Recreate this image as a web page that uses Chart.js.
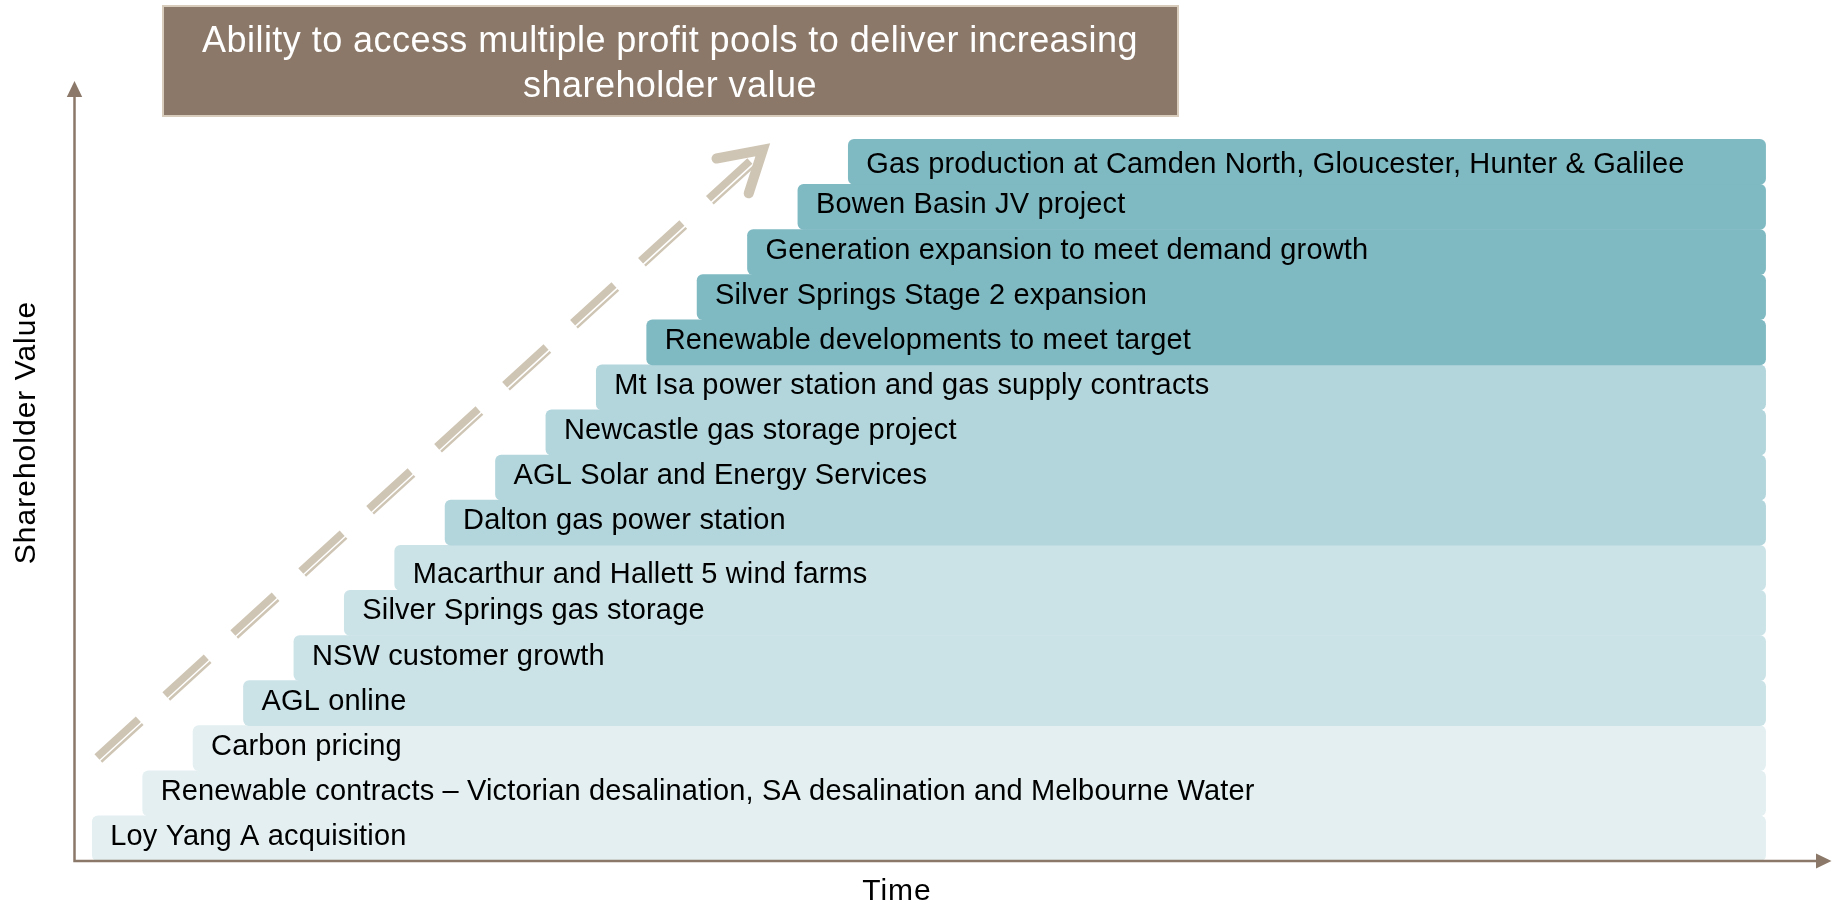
<!DOCTYPE html>
<html>
<head>
<meta charset="utf-8">
<script src="https://cdn.jsdelivr.net/npm/chart.js@4.4.1/dist/chart.umd.min.js"></script>
<style>
  html, body { margin: 0; padding: 0; background: #ffffff; }
  #wrap { width: 1836px; height: 905px; position: relative; }
  canvas { display: block; }
</style>
</head>
<body>
<div id="wrap"><canvas id="chart" width="1836" height="905"></canvas></div>
<script>
// ---------------- data ----------------
const categories = [
  "Loy Yang A acquisition",
  "Renewable contracts \u2013 Victorian desalination, SA desalination and Melbourne Water",
  "Carbon pricing",
  "AGL online",
  "NSW customer growth",
  "Silver Springs gas storage",
  "Macarthur and Hallett 5 wind farms",
  "Dalton gas power station",
  "AGL Solar and Energy Services",
  "Newcastle gas storage project",
  "Mt Isa power station and gas supply contracts",
  "Renewable developments to meet target",
  "Silver Springs Stage 2 expansion",
  "Generation expansion to meet demand growth",
  "Bowen Basin JV project",
  "Gas production at Camden North, Gloucester, Hunter & Galilee"
];
const valueLevel = [0, 1, 2, 3, 4, 5, 6, 7, 8, 9, 10, 11, 12, 13, 14, 15];
const startTime  = [1, 2, 3, 4, 5, 6, 7, 8, 9, 10, 11, 12, 13, 14, 15, 16];
const endTime    = [34.2, 34.2, 34.2, 34.2, 34.2, 34.2, 34.2, 34.2, 34.2, 34.2, 34.2, 34.2, 34.2, 34.2, 34.2, 34.2];
const tierOf     = [0, 0, 0, 1, 1, 1, 1, 2, 2, 2, 2, 3, 3, 3, 3, 3];

const titleLines = ["Ability to access multiple profit pools to deliver increasing", "shareholder value"];
const xAxisTitle = "Time";
const yAxisTitle = "Shareholder Value";

// dashed growth arrow (in time / value units)
const arrowShaftX = [1.093, 14.049];
const arrowShaftY = [1.806, 15.021];
const arrowThinX  = [1.180, 14.137];
const arrowThinY  = [1.700, 14.915];
const arrowHeadX  = [13.385, 14.304, 14.024];
const arrowHeadY  = [15.074, 15.269, 14.302];

// axis extents (in value units)
const timeMin = 0.657, timeMax = 35.2;
const valueMin = -0.5, valueMax = 18.5;
const valueAxisTop = 16.44;

// ---------------- styles ----------------
const tierColors = ['#E3EFF1', '#CBE3E7', '#B2D6DC', '#7FB9C2'];
const labelShift = [0, 0, 0, 0, 0, 0, 9, 0, 0, 0, 0, 0, 0, 0, 0, 5];
const FONT = '"Liberation Sans", Arial, Helvetica, sans-serif';
const AXIS_COLOR = '#8B7868';
const ARROW_COLOR = '#CFC5B4';

const toXY = (xs, ys) => xs.map((x, i) => ({ x: x, y: ys[i] }));

const decor = {
  id: 'decor',
  afterDatasetsDraw(chart) {
    const ctx = chart.ctx;
    const meta = chart.getDatasetMeta(0);
    ctx.save();
    ctx.font = '29px ' + FONT;
    ctx.letterSpacing = '0.15px';
    ctx.fillStyle = '#000000';
    ctx.textAlign = 'left';
    ctx.textBaseline = 'alphabetic';
    meta.data.forEach((el, i) => {
      const left = Math.min(el.x, el.base);
      ctx.fillText(categories[i], left + 18, el.y + 6.5 + labelShift[i]);
    });
    ctx.restore();
  },
  afterDraw(chart) {
    const ctx = chart.ctx;
    const area = chart.chartArea;
    const ys = chart.scales.y;
    ctx.save();
    // axes
    ctx.strokeStyle = AXIS_COLOR;
    ctx.fillStyle = AXIS_COLOR;
    ctx.lineWidth = 2.5;
    const axTop = ys.getPixelForValue(valueAxisTop);
    const x0 = area.left - 0.5, y0 = area.bottom;
    ctx.beginPath();
    ctx.moveTo(x0, y0 + 1.2);
    ctx.lineTo(x0, axTop);
    ctx.moveTo(x0 - 1.2, y0);
    ctx.lineTo(area.right, y0);
    ctx.stroke();
    ctx.beginPath();
    ctx.moveTo(x0, axTop - 16);
    ctx.lineTo(x0 - 7.7, axTop);
    ctx.lineTo(x0 + 7.7, axTop);
    ctx.closePath();
    ctx.fill();
    ctx.beginPath();
    ctx.moveTo(area.right + 15.5, y0);
    ctx.lineTo(area.right, y0 - 7.5);
    ctx.lineTo(area.right, y0 + 7.5);
    ctx.closePath();
    ctx.fill();

    // axis titles
    ctx.fillStyle = '#000000';
    ctx.font = '30px ' + FONT;
    ctx.letterSpacing = '1px';
    ctx.textAlign = 'center';
    ctx.textBaseline = 'alphabetic';
    ctx.fillText(xAxisTitle, 897, 899.5);
    ctx.save();
    ctx.translate(34.5, 432.5);
    ctx.rotate(-Math.PI / 2);
    ctx.fillText(yAxisTitle, 0, 0);
    ctx.restore();

    // title box
    ctx.fillStyle = '#D8CDBC';
    ctx.fillRect(162, 5, 1017, 112);
    ctx.fillStyle = '#8B7868';
    ctx.fillRect(164, 7, 1013, 108);
    ctx.fillStyle = '#FFFFFF';
    ctx.font = '36px ' + FONT;
    ctx.letterSpacing = '0.45px';
    ctx.textAlign = 'center';
    ctx.fillText(titleLines[0], 670, 51.5);
    ctx.fillText(titleLines[1], 670, 96.5);
    ctx.restore();
  }
};

const chart = new Chart(document.getElementById('chart'), {
  type: 'bar',
  data: {
    datasets: [
      {
        type: 'bar',
        indexAxis: 'y',
        data: categories.map((c, i) => ({ x: [startTime[i], endTime[i]], y: valueLevel[i] })),
        backgroundColor: tierOf.map(t => tierColors[t]),
        borderWidth: 0,
        borderRadius: 6,
        borderSkipped: false,
        barPercentage: 1,
        categoryPercentage: 1
      },
      {
        type: 'line',
        indexAxis: 'x',
        data: toXY(arrowShaftX, arrowShaftY),
        borderColor: ARROW_COLOR,
        borderWidth: 7.5,
        borderDash: [56, 36],
        borderCapStyle: 'butt',
        pointRadius: 0,
        fill: false,
        tension: 0
      },
      {
        type: 'line',
        indexAxis: 'x',
        data: toXY(arrowThinX, arrowThinY),
        borderColor: ARROW_COLOR,
        borderWidth: 2.5,
        borderDash: [56, 36],
        borderCapStyle: 'butt',
        pointRadius: 0,
        fill: false,
        tension: 0
      },
      {
        type: 'line',
        indexAxis: 'x',
        data: toXY(arrowHeadX, arrowHeadY),
        borderColor: ARROW_COLOR,
        borderWidth: 10,
        borderCapStyle: 'round',
        borderJoinStyle: 'miter',
        pointRadius: 0,
        fill: false,
        tension: 0
      }
    ]
  },
  options: {
    responsive: false,
    devicePixelRatio: 1,
    animation: false,
    layout: { padding: { left: 75, right: 20, top: 4, bottom: 44 } },
    plugins: { legend: { display: false }, tooltip: { enabled: false }, title: { display: false } },
    scales: {
      x: {
        type: 'linear', display: false, min: timeMin, max: timeMax,
        afterBuildTicks: s => { s.ticks = []; }
      },
      y: {
        type: 'linear', display: false, min: valueMin, max: valueMax,
        afterBuildTicks: s => { s.ticks = []; }
      }
    }
  },
  plugins: [decor]
});
</script>
</body>
</html>
